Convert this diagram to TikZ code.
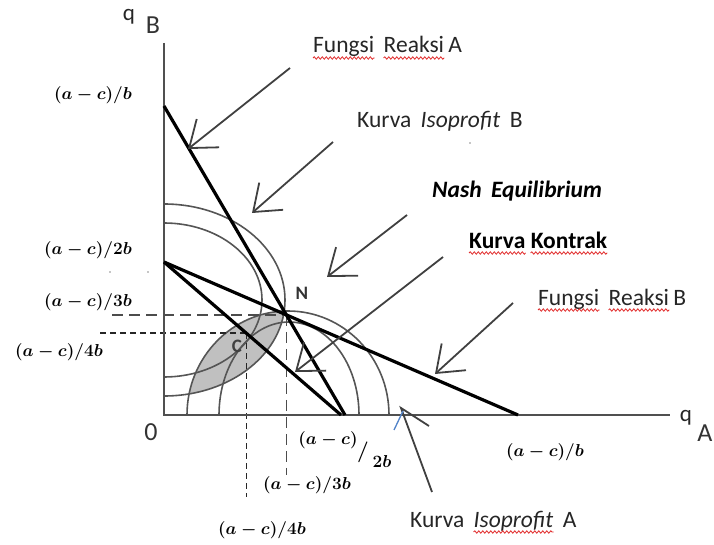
\documentclass[tikz,border=0pt]{standalone}
\usepackage{fontspec}
\setmainfont{Carlito}
\usetikzlibrary{arrows.meta,decorations.pathmorphing,calc,intersections}
\definecolor{axisgray}{RGB}{80,80,80}
\definecolor{arcgray}{RGB}{85,85,85}
\definecolor{lensgray}{RGB}{192,192,192}
\definecolor{spellred}{RGB}{225,45,45}
\definecolor{markblue}{RGB}{80,130,200}
\begin{document}
\begin{tikzpicture}[x=1pt,y=-1pt,
  axis/.style={draw=axisgray,line width=2.4},
  arcline/.style={draw=arcgray,line width=1.6},
  thickline/.style={draw=black,line width=3.2},
  guide/.style={draw=black!85,line width=1.3,dash pattern=on 6 off 4},
  longguide/.style={draw=black!70,line width=1.3,dash pattern=on 11 off 6},
  pointer/.style={draw=black!75,line width=1.8,-{Straight Barb[angle=74:30pt]}},
  pointerline/.style={draw=black!75,line width=1.8},
  lbl/.style={font=\fontsize{23.5}{27}\selectfont,text=black!85,inner sep=0,anchor=base west},
  blbl/.style={lbl,font=\fontsize{23.5}{27}\selectfont\bfseries,text=black},
  bilbl/.style={lbl,font=\fontsize{23.5}{27}\selectfont\bfseries\itshape,text=black},
  mlbl/.style={font=\fontsize{19}{22}\selectfont\boldmath,inner sep=0},
  axlbl/.style={font=\fontsize{26}{30}\selectfont,text=black!80,inner sep=0},
  qlbl/.style={font=\fontsize{23}{26}\selectfont,text=black!85,inner sep=0},
  spell/.style={draw=spellred,line width=0.8,decorate,decoration={snake,amplitude=1.2pt,segment length=4pt}},
  ]
\useasboundingbox (0,0) rectangle (714,545);
% key coordinates
\coordinate (O) at (164,415);
\coordinate (Ytop) at (164,43);
\coordinate (Xend) at (670,415);
\coordinate (Pa) at (164,106);
\coordinate (Pa2) at (164,262);
\coordinate (Qa2) at (345,415);
\coordinate (Qk) at (341,415);
\coordinate (Qb) at (518,415);
\coordinate (N) at (intersection of Pa--Qa2 and Pa2--Qb);
\coordinate (C) at ($(Pa2)!0.465!(Qk)$);
% lens (contract region)
\begin{scope}
  \clip (288,415) ellipse [x radius=101,y radius=104];
  \fill[lensgray] (164,300) ellipse [x radius=121,y radius=96];
\end{scope}
% isoprofit curves
\begin{scope}
  \clip (164,0) rectangle (714,415);
  \draw[arcline] (164,300) ellipse [x radius=121,y radius=96];
  \draw[arcline] (164,300) ellipse [x radius=98,y radius=77];
  \draw[arcline] (288,415) ellipse [x radius=101,y radius=104];
  \draw[arcline] (289,415) ellipse [x radius=70,y radius=93];
\end{scope}
% guides
\coordinate (g3) at (112,0);
\coordinate (g4) at (100,0);
\coordinate (v3) at (0,475);
\coordinate (v4) at (0,497);
\draw[longguide] (N -| g3) -- (N);
\draw[longguide] (N) -- (N |- v3);
\draw[guide] (C -| g4) -- (C);
\draw[guide] (C) -- (C |- v4);
% point labels
\node[font=\fontsize{19}{22}\selectfont\bfseries,text=black!75,inner sep=0] (Clbl) at (237,346) {C};
\node[font=\fontsize{19}{22}\selectfont\bfseries,text=black!80,inner sep=0] (Nlbl) at (302,293) {N};
% axes
\draw[axis] (Ytop) -- (O) -- (Xend);
% reaction functions and contract curve
\draw[thickline] (Pa) -- (Qa2);
\draw[thickline] (Pa2) -- (Qb);
\draw[thickline] (Pa2) -- (Qk);
% axis labels
\node[qlbl] (qB1) at (129,17) {q};
\node[axlbl] (qB2) at (153,25) {B};
\node[qlbl] (qA1) at (686,418) {q};
\node[axlbl] (qA2) at (705,433) {A};
\node[axlbl] (zero) at (151,432) {0};
% math labels
\node[mlbl] (lb1) at (93,95) {$(a-c)/b$};
\node[mlbl] (lb2) at (88,250) {$(a-c)/2b$};
\node[mlbl] (lb3) at (88,302) {$(a-c)/3b$};
\node[mlbl] (lb4) at (59,352) {$(a-c)/4b$};
\node[mlbl] (la2n) at (328,440) {$(a-c)$};
\node[mlbl,font=\fontsize{21}{24}\selectfont\boldmath] (la2s) at (363,452) {$/$};
\node[mlbl,font=\fontsize{17}{20}\selectfont\boldmath] (la2d) at (382,461) {$2b$};
\node[mlbl] (la3) at (307,485) {$(a-c)/3b$};
\node[mlbl] (la4) at (262,530) {$(a-c)/4b$};
\node[mlbl] (lab) at (545,452) {$(a-c)/b$};
% text labels
\node[lbl] (fa1) at (313,53) {Fungsi};
\node[lbl] (fa2) at ($(fa1.base east)+(9,0)$) {Reaksi};
\node[lbl] (fa3) at ($(fa2.base east)+(4,0)$) {A};
\node[lbl] (kb1) at (357,128) {Kurva};
\node[lbl] (kb2) at ($(kb1.base east)+(9,0)$) {\itshape Isoprofit};
\node[lbl] (kb3) at ($(kb2.base east)+(9,0)$) {B};
\node[bilbl] (ne1) at (432,198) {Nash};
\node[bilbl] (ne2) at ($(ne1.base east)+(9,0)$) {Equilibrium};
\node[blbl] (kk1) at (469,248) {Kurva};
\node[blbl] (kk2) at ($(kk1.base east)+(5,0)$) {Kontrak};
\node[lbl] (fb1) at (538,305) {Fungsi};
\node[lbl] (fb2) at ($(fb1.base east)+(9,0)$) {Reaksi};
\node[lbl] (fb3) at ($(fb2.base east)+(4,0)$) {B};
\node[lbl] (ka1) at (410,527) {Kurva};
\node[lbl] (ka2) at ($(ka1.base east)+(9,0)$) {\itshape Isoprofit};
\node[lbl] (ka3) at ($(ka2.base east)+(9,0)$) {A};
% spelling underlines
\foreach \w in {fa1,fa2,kk1,kk2,fb1,fb2,ka2}{
  \draw[spell] ($(\w.base west)+(0,5)$) -- ($(\w.base east)+(0,5)$);
}
% pointer arrows
\coordinate (faT) at (290,68);  \coordinate (faH) at (188,149);
\coordinate (kbT) at (333,142); \coordinate (kbH) at (252,213);
\coordinate (neT) at (407,215); \coordinate (neH) at (327,277);
\coordinate (kkT) at (443,257); \coordinate (kkH) at (295,372);
\coordinate (fbT) at (513,303); \coordinate (fbH) at (435,374);
\coordinate (kaT) at (432,492); \coordinate (kaH) at (401,408);
\coordinate (kaArm) at (429,426);
\coordinate (kaB1) at (403,411); \coordinate (kaB2) at (394,430);
\draw[pointer] (faT) -- (faH);
\draw[pointer] (kbT) -- (kbH);
\draw[pointer] (neT) -- (neH);
\draw[pointer] (kkT) -- (kkH);
\draw[pointer] (fbT) -- (fbH);
\draw[pointerline] (kaT) -- (kaH) -- (kaArm);
\draw[draw=markblue,line width=1.3] (kaB1) -- (kaB2);
% stray marks
\fill[black!45] (110,272) circle (0.9);
\fill[black!45] (148,272) circle (0.9);
\fill[black!45] (470,143) circle (0.9);
\end{tikzpicture}
\end{document}
